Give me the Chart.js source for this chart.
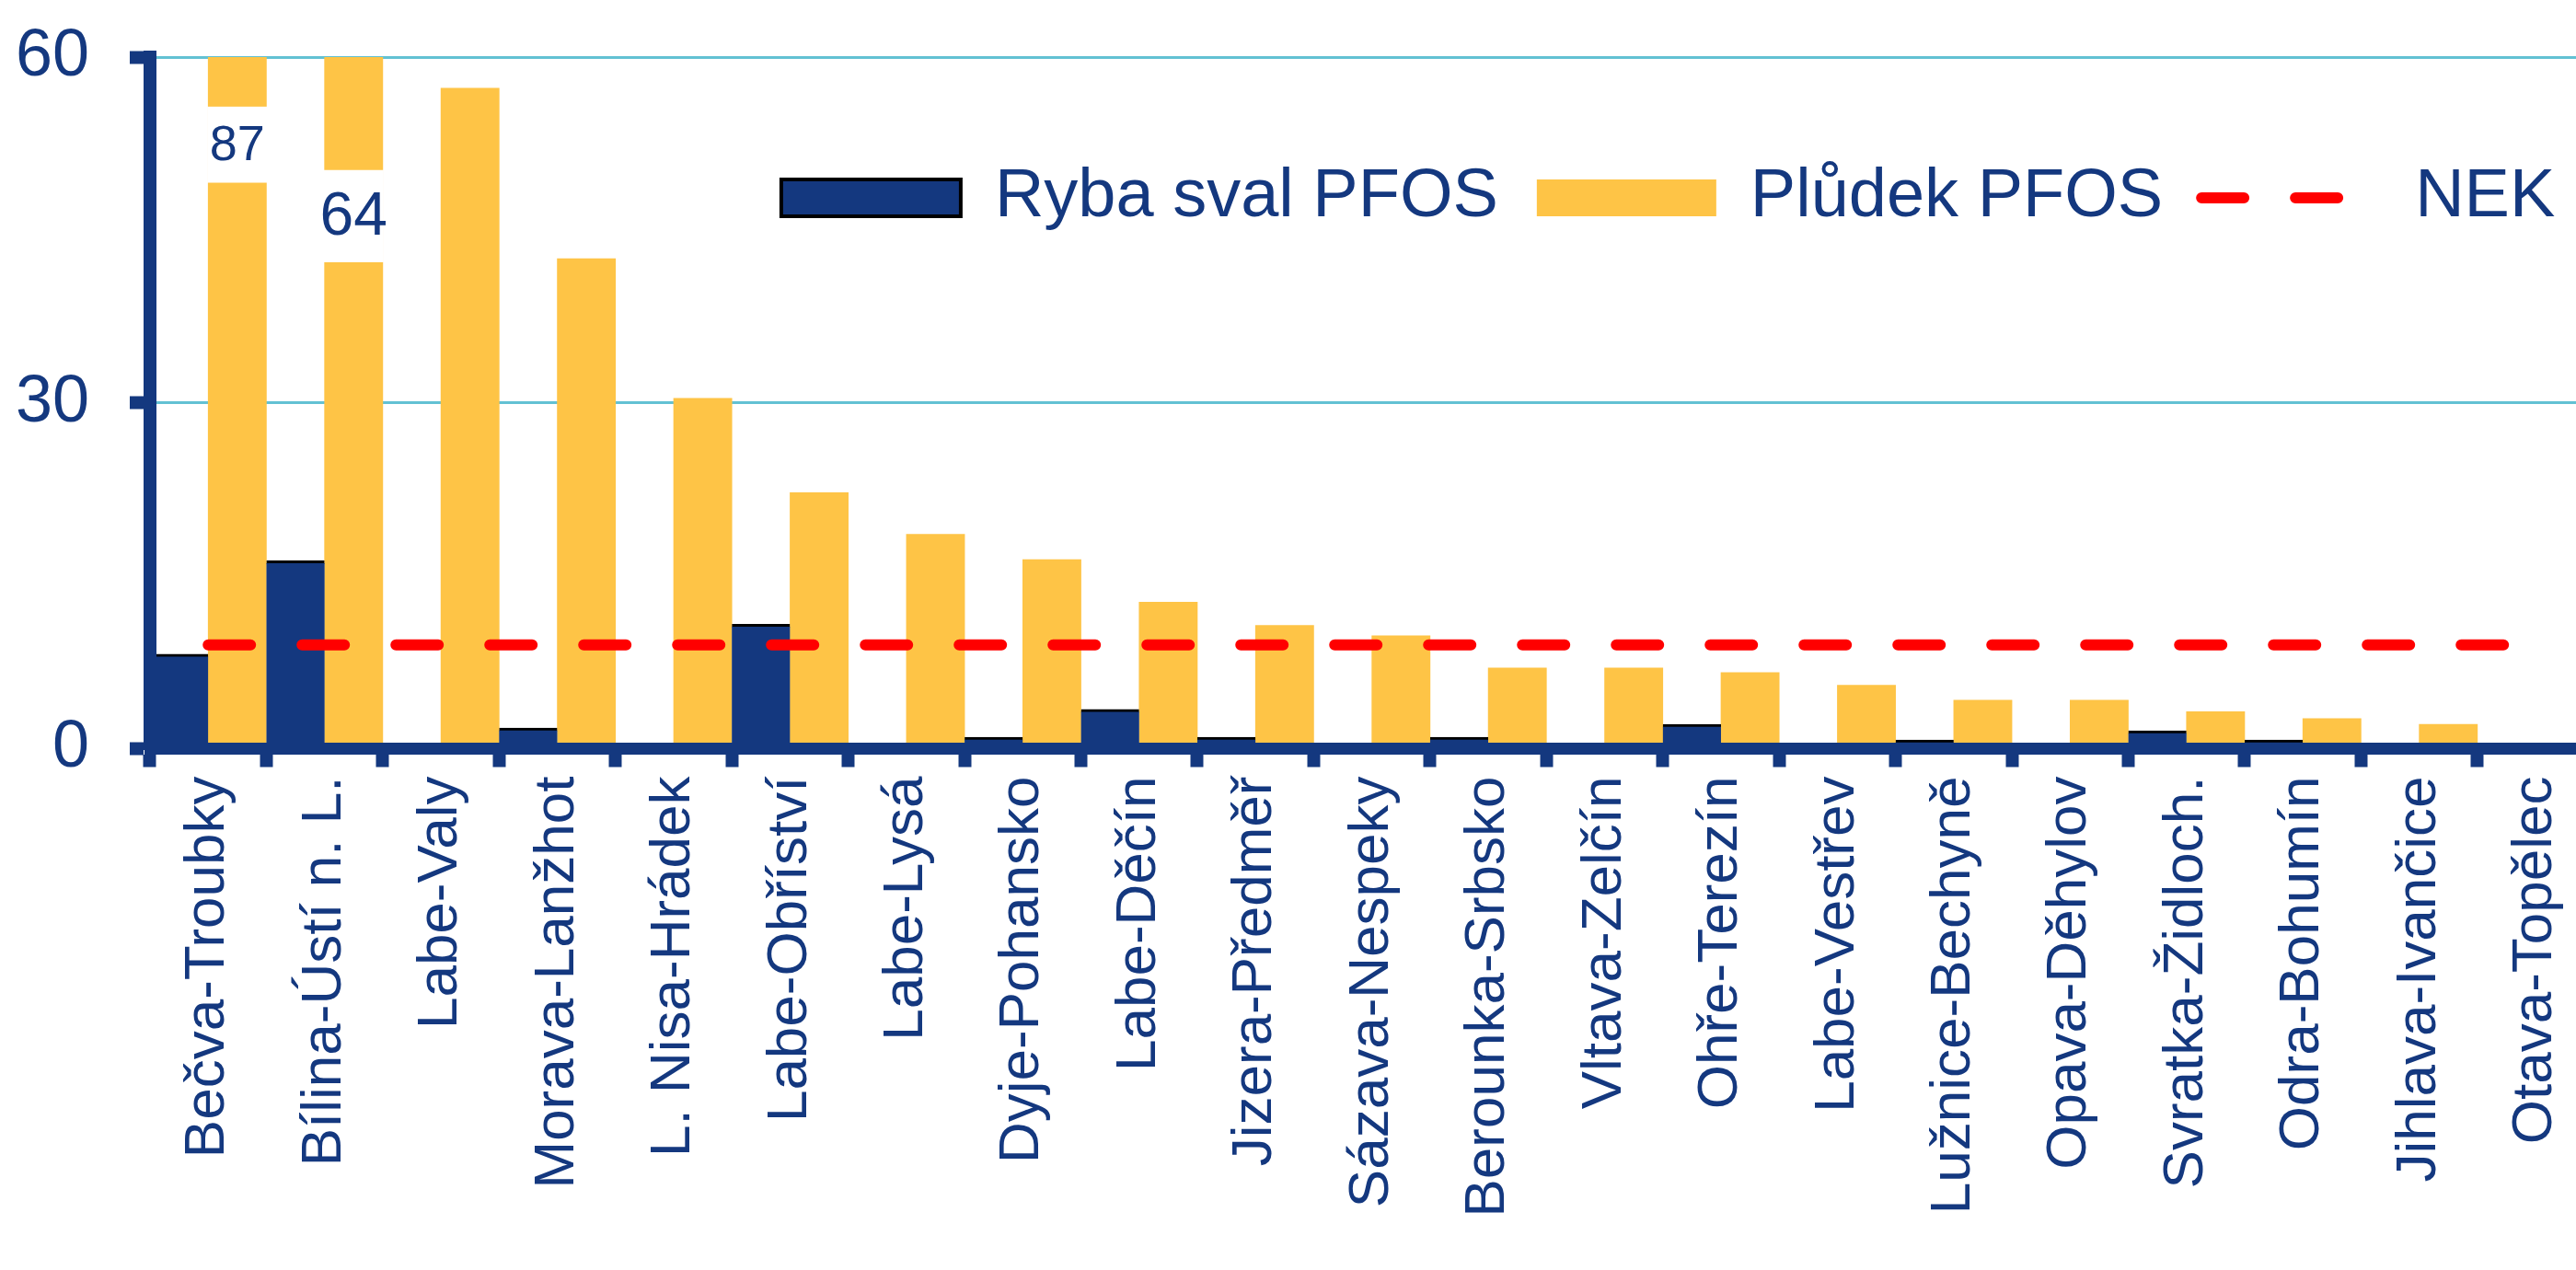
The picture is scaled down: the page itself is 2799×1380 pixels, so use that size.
<!DOCTYPE html>
<html lang="cs">
<head>
<meta charset="utf-8">
<title>PFOS – ryby a plůdek</title>
<script src="https://cdn.jsdelivr.net/npm/chart.js@4.4.1/dist/chart.umd.min.js"></script>
<style>
  html, body { margin: 0; padding: 0; background: #fff; overflow: hidden; }
  #wrap { width: 2840px; height: 1380px; }
</style>
</head>
<body>
<div id="wrap"><canvas id="pfosChart" width="2840" height="1380"></canvas></div>
<script>
// PFOS in fish muscle vs. fry, sampling sites, with NEK limit

/* DATA */
const sites = [
  'Bečva-Troubky', 'Bílina-Ústí n. L.', 'Labe-Valy', 'Morava-Lanžhot', 'L. Nisa-Hrádek',
  'Labe-Obříství', 'Labe-Lysá', 'Dyje-Pohansko', 'Labe-Děčín', 'Jizera-Předměř',
  'Sázava-Nespeky', 'Berounka-Srbsko', 'Vltava-Zelčín', 'Ohře-Terezín', 'Labe-Vestřev',
  'Lužnice-Bechyně', 'Opava-Děhylov', 'Svratka-Židloch.', 'Odra-Bohumín', 'Jihlava-Ivančice',
  'Otava-Topělec'
];
const rybaSval = [8.2, 16.3, 0, 1.8, 0, 10.8, 0, 1.0, 3.4, 1.0, 0, 1.0, 0, 2.1, 0, 0.76, 0, 1.56, 0.76, 0, 0];
const pludek = [87, 64, 57.3, 42.5, 30.4, 22.2, 18.6, 16.4, 12.7, 10.7, 9.8, 7.0, 7.0, 6.6, 5.5, 4.2, 4.2, 3.2, 2.6, 2.1, 0];
const nek = [9, 9, 9, 9, 9, 9, 9, 9, 9, 9, 9, 9, 9, 9, 9, 9, 9, 9, 9, 9, 9];
const yTicks = [0, 30, 60];

// bars taller than the axis get a white break with the real value
const breakSites = [0, 1];
const breakFrom = [49.1, 42.2];
const breakTo = [55.7, 50.2];

/* STYLE */
const NAVY = '#14387F';
const YELLOW = '#FEC446';
const RED = '#FF0000';
const GRID = '#62C1D3';
const FONT = '"Liberation Sans", Arial, sans-serif';
const NARROW = '"Liberation Sans Narrow", "Arial Narrow", "Liberation Sans", sans-serif';
const breakFontSize = [54, 66];
const LEGEND_TOP = 136; // legend sits inside the plot, below the 60 line

// white gap + value label over the clipped bars
const axisBreak = {
  id: 'axisBreak',
  afterDatasetsDraw(chart) {
    const ctx = chart.ctx;
    const yScale = chart.scales.y;
    const meta = chart.getDatasetMeta(1);
    breakSites.forEach((idx, i) => {
      const bar = meta.data[idx];
      const top = yScale.getPixelForValue(breakTo[i]);
      const bottom = yScale.getPixelForValue(breakFrom[i]);
      ctx.save();
      ctx.fillStyle = '#fff';
      ctx.fillRect(bar.x - bar.width / 2 - 1, top, bar.width + 2, bottom - top);
      ctx.fillStyle = NAVY;
      ctx.font = breakFontSize[i] + 'px ' + FONT;
      ctx.textAlign = 'center';
      ctx.textBaseline = 'middle';
      ctx.fillText(String(pludek[idx]), bar.x, (top + bottom) / 2 + 2);
      ctx.restore();
    });
  }
};

// move the legend row down into the plot area
const legendInside = {
  id: 'legendInside',
  afterLayout(chart) {
    const lg = chart.legend;
    if (!lg) return;
    const h = lg.bottom - lg.top;
    lg.top = LEGEND_TOP;
    lg.bottom = LEGEND_TOP + h;
  }
};

new Chart(document.getElementById('pfosChart').getContext('2d'), {
  type: 'bar',
  data: {
    labels: sites,
    datasets: [
      {
        label: 'Ryba sval PFOS',
        data: rybaSval,
        backgroundColor: NAVY,
        borderColor: '#000',
        borderWidth: { top: 3, right: 0, bottom: 0, left: 0 },
        borderSkipped: 'start'
      },
      {
        label: 'Plůdek PFOS',
        data: pludek,
        backgroundColor: YELLOW,
        borderWidth: 0
      },
      {
        type: 'line',
        label: 'NEK',
        data: nek,
        borderColor: RED,
        backgroundColor: RED,
        borderWidth: 12,
        borderDash: [46, 56],
        borderCapStyle: 'round',
        pointRadius: 0,
        fill: false,
        order: -1
      }
    ]
  },
  options: {
    responsive: false,
    animation: false,
    devicePixelRatio: 1,
    categoryPercentage: 1,
    barPercentage: 1,
    // legend row is 126px tall, pulled up so the plot top stays at 62px
    layout: { padding: { top: -64, right: 10, bottom: 0, left: 0 } },
    plugins: {
      tooltip: { enabled: false },
      title: { display: false },
      legend: {
        position: 'top',
        align: 'end',
        fullSize: false,
        labels: {
          color: NAVY,
          font: { family: FONT, size: 74 },
          usePointStyle: true,
          pointStyleWidth: 195,
          boxHeight: 40,
          padding: 42,
          sort: (a, b) => a.datasetIndex - b.datasetIndex,
          generateLabels(chart) {
            const items = Chart.defaults.plugins.legend.labels.generateLabels(chart);
            items.forEach((item) => {
              if (item.datasetIndex === 0) {
                item.pointStyle = 'rect';
                item.strokeStyle = '#000';
                item.lineWidth = 4;
              } else if (item.datasetIndex === 1) {
                item.pointStyle = 'rect';
                item.lineWidth = 0;
              } else {
                item.pointStyle = 'line';
                item.strokeStyle = RED;
                item.lineWidth = 12;
                item.lineCap = 'round';
                item.lineDash = [46, 56];
              }
            });
            return items;
          }
        }
      }
    },
    scales: {
      x: {
        offset: true,
        grid: {
          offset: true,
          drawOnChartArea: false,
          tickLength: 20,
          tickWidth: 14,
          tickColor: NAVY
        },
        border: { display: true, color: NAVY, width: 13, z: 1 },
        ticks: {
          autoSkip: false,
          minRotation: 90,
          maxRotation: 90,
          padding: 10,
          color: NAVY,
          font: { family: NARROW, size: 62 }
        },
        afterFit(scale) { scale.height = 566.5; }
      },
      y: {
        min: 0,
        max: 60,
        afterBuildTicks(scale) { scale.ticks = yTicks.map((v) => ({ value: v })); },
        grid: {
          color: (c) => (c.tick && c.tick.value === 0 ? 'rgba(0,0,0,0)' : GRID),
          lineWidth: 3,
          tickLength: 22,
          tickWidth: 14,
          tickColor: NAVY
        },
        border: { display: true, color: NAVY, width: 14, z: 1 },
        ticks: {
          padding: 44,
          color: NAVY,
          font: { family: FONT, size: 72, lineHeight: 0.5 }
        },
        afterFit(scale) { scale.width = 163; }
      }
    }
  },
  plugins: [axisBreak, legendInside]
});
</script>
</body>
</html>
